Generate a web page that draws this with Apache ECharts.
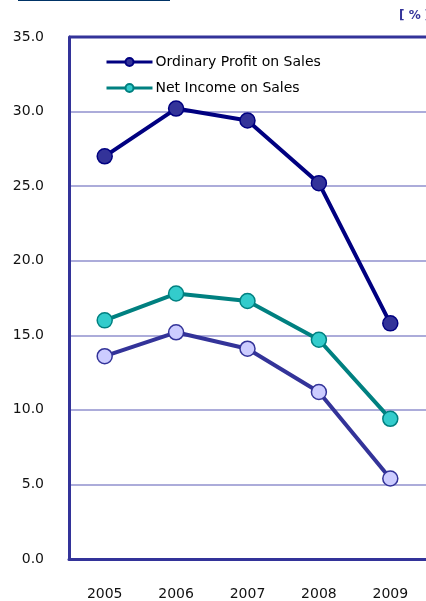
<!DOCTYPE html>
<html>
<head>
<meta charset="utf-8">
<script src="https://cdn.jsdelivr.net/npm/echarts@6/dist/echarts.min.js"></script>
<style>
  html, body { margin: 0; padding: 0; background: #ffffff; }
  #chart { width: 426px; height: 601px; }
</style>
</head>
<body>
<div id="chart"></div>
<script>
// Fiscal years on the category axis
const years = ['2005', '2006', '2007', '2008', '2009'];

// Ratios in percent
const ordinaryProfit = [27.0, 30.2, 29.4, 25.2, 15.8];
const netIncome = [16.0, 17.8, 17.3, 14.7, 9.4];
const thirdRatio = [13.6, 15.2, 14.1, 11.2, 5.4];

// Value-axis range and step
const yMin = 0;
const yMax = 35;
const yStep = 5;

const chart = echarts.init(document.getElementById('chart'), null, { renderer: 'canvas' });

const fontFamily = '"DejaVu Sans", Verdana, sans-serif';

function lineSeries(name, data, lineColor, fillColor, borderColor) {
  return {
    name: name,
    type: 'line',
    data: data,
    symbol: 'circle',
    symbolSize: 15,
    lineStyle: { color: lineColor, width: 4 },
    itemStyle: { color: fillColor, borderColor: borderColor, borderWidth: 1.5 },
    emphasis: { disabled: true },
    z: 3
  };
}

chart.setOption({
  animation: false,
  backgroundColor: '#ffffff',
  grid: { left: 69, top: 37, right: -1, bottom: 40, show: false },
  legend: {
    data: ['Ordinary Profit on Sales', 'Net Income on Sales'],
    orient: 'vertical',
    left: 100,
    top: 50,
    itemWidth: 46,
    itemHeight: 10,
    itemGap: 12,
    lineStyle: { width: 3 },
    textStyle: { fontFamily: fontFamily, fontSize: 14, color: '#000000', padding: [0, 0, 0, -2] }
  },
  xAxis: {
    type: 'category',
    data: years,
    boundaryGap: true,
    axisLine: { lineStyle: { color: '#333399', width: 3 } },
    axisTick: { inside: true, length: 5, lineStyle: { color: '#333399', width: 2 } },
    axisLabel: { fontFamily: fontFamily, fontSize: 14, color: '#111111', margin: 28 }
  },
  yAxis: {
    type: 'value',
    min: yMin,
    max: yMax,
    interval: yStep,
    axisLine: { show: true, lineStyle: { color: '#333399', width: 3 } },
    axisTick: { show: false },
    splitLine: { lineStyle: { color: '#acacda', width: 2, type: 'solid' } },
    axisLabel: {
      fontFamily: fontFamily,
      fontSize: 14,
      color: '#111111',
      margin: 25,
      formatter: v => v.toFixed(1)
    }
  },
  graphic: [
    // frame line along the top of the plot
    { type: 'line', shape: { x1: 69, y1: 37, x2: 426, y2: 37 }, style: { stroke: '#333399', lineWidth: 3 }, z: 10 },
    // underline of the heading above the chart
    { type: 'line', shape: { x1: 18, y1: 0.5, x2: 170, y2: 0.5 }, style: { stroke: '#003366', lineWidth: 1 } },
    // unit label
    { type: 'text', left: 399, top: 10, style: { text: '[ % ]', fill: '#333399', font: 'bold 12px "DejaVu Sans", sans-serif' } }
  ],
  series: [
    lineSeries('Ordinary Profit on Sales', ordinaryProfit, '#000080', '#333399', '#000080'),
    lineSeries('Net Income on Sales', netIncome, '#008080', '#33cccc', '#008080'),
    lineSeries('Ratio', thirdRatio, '#333399', '#ccccff', '#333399')
  ]
});
</script>
</body>
</html>
